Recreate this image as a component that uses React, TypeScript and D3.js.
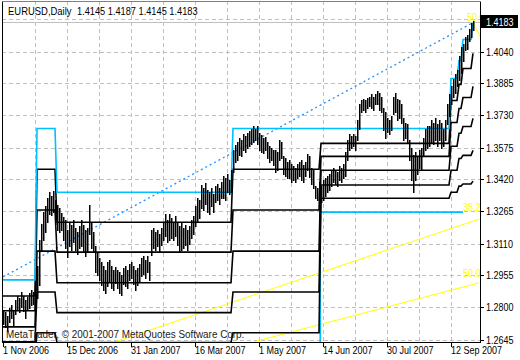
import React from 'react';
import * as d3 from 'd3';

// EURUSD daily, 1 Nov 2006 .. 21 Sep 2007 (bar 0 .. 235)
const highs = [
  1.2789, 1.2779, 1.2760, 1.2798, 1.2813, 1.2789, 1.2837, 1.2856, 1.2846, 1.2875,
  1.2856, 1.2837, 1.2851, 1.2871, 1.2885, 1.2875, 1.2905, 1.3001, 1.3127, 1.3204,
  1.3262, 1.3291, 1.3329, 1.3358, 1.3339, 1.3363, 1.3320, 1.3296, 1.3281, 1.3258,
  1.3238, 1.3223, 1.3175, 1.3213, 1.3199, 1.3223, 1.3184, 1.3165, 1.3194, 1.3223,
  1.3199, 1.3175, 1.3184, 1.3296, 1.3213, 1.3165, 1.3098, 1.3068, 1.3039, 1.3020,
  1.3001, 1.2982, 1.3020, 1.3030, 1.3001, 1.2982, 1.2996, 1.2982, 1.2972, 1.2958,
  1.2992, 1.3001, 1.2982, 1.3011, 1.3020, 1.3001, 1.2982, 1.2992, 1.3011, 1.3039,
  1.3049, 1.3030, 1.3049, 1.3020, 1.3175, 1.3184, 1.3165, 1.3175, 1.3156, 1.3184,
  1.3213, 1.3253, 1.3223, 1.3253, 1.3233, 1.3213, 1.3243, 1.3213, 1.3194, 1.3213,
  1.3184, 1.3199, 1.3175, 1.3194, 1.3223, 1.3243, 1.3291, 1.3329, 1.3320, 1.3393,
  1.3378, 1.3403, 1.3368, 1.3358, 1.3378, 1.3349, 1.3388, 1.3398, 1.3378, 1.3407,
  1.3436, 1.3426, 1.3446, 1.3417, 1.3465, 1.3561, 1.3586, 1.3600, 1.3619, 1.3610,
  1.3639, 1.3629, 1.3644, 1.3653, 1.3663, 1.3677, 1.3667, 1.3677, 1.3644, 1.3634,
  1.3619, 1.3624, 1.3600, 1.3581, 1.3571, 1.3561, 1.3561, 1.3551, 1.3610, 1.3600,
  1.3532, 1.3522, 1.3503, 1.3513, 1.3494, 1.3484, 1.3474, 1.3494, 1.3503, 1.3513,
  1.3489, 1.3503, 1.3542, 1.3532, 1.3474, 1.3465, 1.3388, 1.3378, 1.3407, 1.3388,
  1.3417, 1.3426, 1.3436, 1.3446, 1.3465, 1.3474, 1.3465, 1.3455, 1.3484, 1.3474,
  1.3494, 1.3551, 1.3610, 1.3639, 1.3629, 1.3639, 1.3629, 1.3706, 1.3784, 1.3803,
  1.3812, 1.3803, 1.3817, 1.3822, 1.3832, 1.3822, 1.3832, 1.3851, 1.3841, 1.3822,
  1.3764, 1.3745, 1.3716, 1.3706, 1.3726, 1.3822, 1.3837, 1.3812, 1.3803, 1.3784,
  1.3716, 1.3696, 1.3687, 1.3610, 1.3571, 1.3537, 1.3551, 1.3532, 1.3561, 1.3571,
  1.3619, 1.3667, 1.3677, 1.3677, 1.3706, 1.3696, 1.3716, 1.3687, 1.3706, 1.3696,
  1.3667, 1.3706, 1.3784, 1.3832, 1.3871, 1.3909, 1.3929, 1.3948, 1.4016, 1.4064,
  1.4074, 1.4112, 1.4122, 1.4150, 1.4179, 1.4187,
];

const lows = [
  1.2721, 1.2706, 1.2687, 1.2730, 1.2750, 1.2716, 1.2770, 1.2789, 1.2779, 1.2803,
  1.2784, 1.2750, 1.2789, 1.2798, 1.2813, 1.2818, 1.2837, 1.2846, 1.2910, 1.3078,
  1.3127, 1.3165, 1.3213, 1.3253, 1.3248, 1.3262, 1.3204, 1.3175, 1.3165, 1.3175,
  1.3127, 1.3088, 1.3044, 1.3098, 1.3078, 1.3117, 1.3078, 1.3059, 1.3088, 1.3098,
  1.3068, 1.3049, 1.3068, 1.3156, 1.3088, 1.3068, 1.2972, 1.2958, 1.2934, 1.2910,
  1.2885, 1.2871, 1.2905, 1.2924, 1.2895, 1.2885, 1.2920, 1.2895, 1.2871, 1.2861,
  1.2915, 1.2905, 1.2895, 1.2934, 1.2943, 1.2915, 1.2885, 1.2910, 1.2924, 1.2953,
  1.2963, 1.2943, 1.2972, 1.2934, 1.3054, 1.3088, 1.3078, 1.3098, 1.3068, 1.3103,
  1.3127, 1.3146, 1.3117, 1.3127, 1.3136, 1.3127, 1.3146, 1.3103, 1.3068, 1.3078,
  1.3088, 1.3103, 1.3078, 1.3108, 1.3136, 1.3156, 1.3194, 1.3213, 1.3233, 1.3281,
  1.3272, 1.3301, 1.3262, 1.3253, 1.3291, 1.3262, 1.3310, 1.3320, 1.3301, 1.3329,
  1.3329, 1.3320, 1.3358, 1.3349, 1.3358, 1.3455, 1.3503, 1.3513, 1.3537, 1.3532,
  1.3561, 1.3551, 1.3571, 1.3581, 1.3591, 1.3600, 1.3610, 1.3591, 1.3561, 1.3551,
  1.3547, 1.3561, 1.3522, 1.3503, 1.3513, 1.3489, 1.3455, 1.3465, 1.3513, 1.3522,
  1.3446, 1.3436, 1.3426, 1.3426, 1.3407, 1.3417, 1.3407, 1.3426, 1.3436, 1.3417,
  1.3407, 1.3436, 1.3465, 1.3431, 1.3398, 1.3378, 1.3329, 1.3320, 1.3339, 1.3310,
  1.3320, 1.3339, 1.3358, 1.3368, 1.3388, 1.3407, 1.3398, 1.3388, 1.3417, 1.3407,
  1.3426, 1.3436, 1.3513, 1.3561, 1.3571, 1.3581, 1.3561, 1.3610, 1.3667, 1.3745,
  1.3755, 1.3745, 1.3764, 1.3774, 1.3764, 1.3755, 1.3784, 1.3784, 1.3755, 1.3745,
  1.3658, 1.3619, 1.3648, 1.3639, 1.3658, 1.3736, 1.3745, 1.3706, 1.3716, 1.3696,
  1.3610, 1.3619, 1.3600, 1.3513, 1.3417, 1.3358, 1.3417, 1.3446, 1.3474, 1.3465,
  1.3532, 1.3561, 1.3571, 1.3581, 1.3600, 1.3591, 1.3610, 1.3581, 1.3610, 1.3571,
  1.3581, 1.3610, 1.3687, 1.3726, 1.3784, 1.3822, 1.3841, 1.3871, 1.3900, 1.3938,
  1.3996, 1.4045, 1.4054, 1.4093, 1.4112, 1.4145,
];

// band indicator: level sets, each starting at a bar index
const periodStart = [0, 17, 27, 115, 159, 224, 228, 230, 235];
const cyanLevels = [1.2934, 1.3667, 1.3358, 1.3667, 1.3667, 1.3909, 1.3996, 1.4098, 1.4179];
const blackLevels = [
  [1.2856, 1.2784, 1.2706, 1.2634, 1.2560],
  [1.3470, 1.3272, 1.3073, 1.2875, 1.2678],
  [1.3213, 1.3068, 1.2920, 1.2775, 1.2630],
  [1.3470, 1.3272, 1.3073, 1.2875, 1.2678],
  [1.3595, 1.3532, 1.3465, 1.3393, 1.3329],
  [1.3803, 1.3696, 1.3581, 1.3465, 1.3358],
  [1.3881, 1.3764, 1.3644, 1.3522, 1.3388],
  [1.3958, 1.3817, 1.3677, 1.3537, 1.3398],
  [1.4031, 1.3871, 1.3716, 1.3561, 1.3412],
];

const priceTicks = [1.4040, 1.3885, 1.3730, 1.3575, 1.3420, 1.3265, 1.3110, 1.2955, 1.2800, 1.2645];
const gridPrices = [1.4195, ...priceTicks];
const dateLabels = ['1 Nov 2006', '15 Dec 2006', '31 Jan 2007', '16 Mar 2007', '1 May 2007', '14 Jun 2007', '30 Jul 2007', '12 Sep 2007'];
const dateBars = [0, 32, 64, 96, 128, 160, 192, 224];
const gridBars = [16, 32, 48, 64, 80, 96, 112, 128, 144, 160, 176, 192, 208, 224];

const lastPrice = 1.4183;
const header = ['1.4145', '1.4187', '1.4145', '1.4183'];

// drawn objects: [bar, price] pairs
const trendLine: [number, number][] = [[0, 1.2948], [235, 1.4180]];
const fanLines: [number, number][][] = [
  [[56, 1.2634], [238, 1.3228]],
  [[125.5, 1.2634], [238, 1.2919]],
  [[235, 1.4180], [238.5, 1.4112]],
];
const fanLabels: { text: string; bar: number; price: number }[] = [
  { text: '50.0', bar: 232, price: 1.4190 },
  { text: '38.2', bar: 230, price: 1.3266 },
  { text: '50.0', bar: 230, price: 1.2948 },
];
const levelLine: [number, number][] = [[158.6, 1.2600], [158.6, 1.3262], [230, 1.3262]];

const W = 520;
const H = 360;
const L = 2, R = 480, T = 1, B = 342;
const FONT = "'Liberation Sans', Arial, sans-serif";

// text squeezed horizontally like MetaTrader's narrow font
const NText: React.FC<{ x: number; y: number; fill?: string; sx?: number; children: React.ReactNode }> = ({ x, y, fill = '#000', sx = 0.82, children }) => (
  <text transform={`translate(${x},${y}) scale(${sx},1)`} fontSize={11} fill={fill}>{children}</text>
);

const App: React.FC = () => {
  const x = d3.scaleLinear().domain([0, 235]).range([3, 473]);
  const y = d3.scaleLinear().domain([1.2645, 1.4040]).range([339.5, 51.5]);

  const periodOf = (i: number) => {
    let p = 0;
    periodStart.forEach((s, k) => { if (i >= s) p = k; });
    return p;
  };
  const bars = d3.range(highs.length);

  const levelPath = (get: (p: number) => number) =>
    d3.line<number>().x(i => x(i)).y(i => y(get(periodOf(i))))(bars) || '';

  const seg = d3.line<[number, number]>().x(d => x(d[0])).y(d => y(d[1]));

  return (
    <svg width={W} height={H} style={{ position: 'absolute', left: 0, top: 0, background: '#fff' }}
      fontFamily={FONT}>
      <defs>
        <clipPath id="plot"><rect x={L} y={T} width={R - L} height={B - T} /></clipPath>
      </defs>
      <rect x={0} y={0} width={W} height={H} fill="#fff" />

      {/* grid */}
      <g stroke="#c0c0c0" strokeDasharray="4,3" shapeRendering="crispEdges">
        {gridBars.map(b => (
          <line key={`v${b}`} x1={x(b) + 0.5} x2={x(b) + 0.5} y1={T} y2={B} />
        ))}
        {gridPrices.map(p => (
          <line key={`h${p}`} x1={L} x2={R} y1={Math.round(y(p)) + 0.5} y2={Math.round(y(p)) + 0.5} />
        ))}
      </g>

      <g clipPath="url(#plot)">
        {/* bid line */}
        <line x1={L} x2={R} y1={Math.round(y(lastPrice)) + 0.5} y2={Math.round(y(lastPrice)) + 0.5}
          stroke="#c0c0c0" shapeRendering="crispEdges" />

        {/* fan lines */}
        {fanLines.map((l, k) => (
          <path key={k} d={seg(l) || ''} fill="none" stroke="#ffff00" strokeWidth={1} />
        ))}
        {fanLabels.map((f, k) => (
          <NText key={k} x={x(f.bar)} y={y(f.price)} fill="#ffff00">{f.text}</NText>
        ))}

        {/* trend line */}
        <path d={seg(trendLine) || ''} fill="none" stroke="#1e90ff" strokeWidth={1.3} strokeDasharray="2,3" />

        {/* level line */}
        <path d={seg(levelLine) || ''} fill="none" stroke="#00bfff" strokeWidth={1.6} />

        {/* band lines */}
        {d3.range(5).map(j => (
          <path key={j} d={levelPath(p => blackLevels[p][j])} fill="none" stroke="#000" strokeWidth={1.6} />
        ))}
        <path d={levelPath(p => cyanLevels[p])} fill="none" stroke="#00bfff" strokeWidth={1.6} />

        {/* price bars */}
        <g stroke="#000">
          {bars.map(i => (
            <line key={i} x1={x(i) + 0.75} x2={x(i) + 0.75} y1={Math.round(y(highs[i]))} y2={Math.round(y(lows[i])) + 1} strokeWidth={1.5} />
          ))}
        </g>
      </g>

      {/* frame */}
      <g stroke="#000" shapeRendering="crispEdges" fill="none">
        <line x1={L + 0.5} x2={L + 0.5} y1={T} y2={B + 1} />
        <line x1={R + 0.5} x2={R + 0.5} y1={T} y2={B + 1} />
        <line x1={L} x2={R + 1} y1={B + 0.5} y2={B + 0.5} />
        <line x1={L} x2={R + 1} y1={T + 0.5} y2={T + 0.5} stroke="#808080" />
        {priceTicks.map(p => (
          <line key={p} x1={R} x2={R + 4} y1={Math.round(y(p)) + 0.5} y2={Math.round(y(p)) + 0.5} />
        ))}
        {dateBars.map(b => (
          <line key={b} x1={x(b) + 0.5} x2={x(b) + 0.5} y1={B} y2={B + 5} />
        ))}
      </g>

      {/* price labels */}
      {priceTicks.map(p => (
        <NText key={p} x={486} y={Math.round(y(p)) + 4}>{p.toFixed(4)}</NText>
      ))}
      <rect x={481} y={Math.round(y(lastPrice)) - 7} width={37} height={13} fill="#000" />
      <NText x={486} y={Math.round(y(lastPrice)) + 4} fill="#fff">{lastPrice.toFixed(4)}</NText>

      {/* date labels */}
      {dateBars.map((b, k) => (
        <NText key={b} x={x(b)} y={354}>{dateLabels[k]}</NText>
      ))}

      {/* header and copyright */}
      <NText x={8} y={15} sx={0.86}>EURUSD,Daily</NText>
      <NText x={77} y={15} sx={0.84}>{header.join(' ')}</NText>
      <NText x={6} y={338} sx={0.9} fill="#1a1a1a">MetaTrader, © 2001-2007 MetaQuotes Software Corp.</NText>
    </svg>
  );
};

export default App;
